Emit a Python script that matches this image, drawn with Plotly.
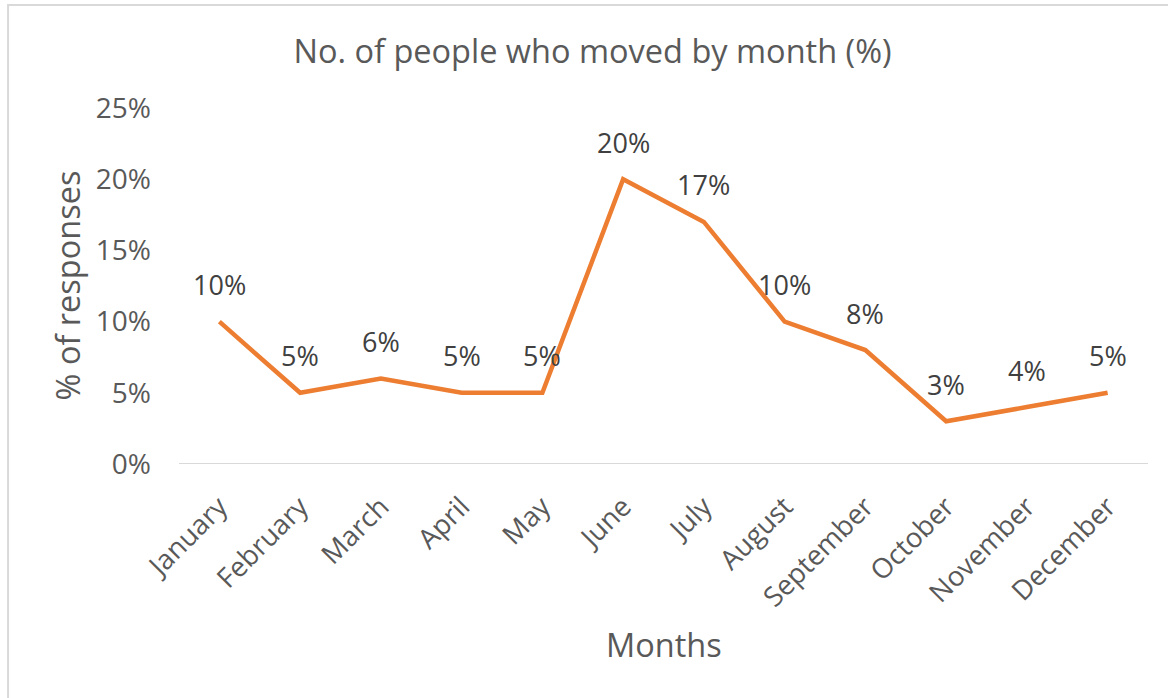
import plotly.graph_objects as go

months = ["January", "February", "March", "April", "May", "June", "July",
          "August", "September", "October", "November", "December"]
values = [10, 5, 6, 5, 5, 20, 17, 10, 8, 3, 4, 5]
y_ticks = [0, 5, 10, 15, 20, 25]
y_tick_labels = ["0%", "5%", "10%", "15%", "20%", "25%"]

FONT = "Open Sans"
GREY = "#595959"
fig = go.Figure()
fig.add_trace(go.Scatter(
    x=months, y=values, mode="lines",
    line=dict(color="#ED7D31", width=4.5),
    hoverinfo="skip", showlegend=False,
))

for m, v in zip(months, values):
    fig.add_annotation(x=m, y=v, text=f"{v}%", showarrow=False,
                       yshift=37, font=dict(family=FONT, size=27, color="#404040"))

# chart border (only top and left visible in the reference crop)
fig.add_shape(type="rect", xref="paper", yref="paper",
              x0=-0.1764, x1=1.03, y0=-0.7, y1=1.2893,
              line=dict(color="#D9D9D9", width=2), layer="below")

# axis titles
fig.add_annotation(text="Months", xref="paper", yref="paper", x=0.5005, y=-0.5084,
                   showarrow=False, xanchor="center", yanchor="middle",
                   font=dict(family=FONT, size=32.5, color=GREY))
fig.add_annotation(text="% of responses", xref="paper", yref="paper", x=-0.1151, y=0.503,
                   showarrow=False, xanchor="center", yanchor="middle", textangle=-90,
                   font=dict(family=FONT, size=32.5, color=GREY))

fig.update_layout(
    width=1168, height=698,
    margin=dict(l=178.6, r=19.6, t=108, b=234, autoexpand=False),
    paper_bgcolor="white", plot_bgcolor="white",
    title=dict(text="No. of people who moved by month (%)", x=0.5073, xanchor="center",
               y=0.9255, yanchor="middle",
               font=dict(family=FONT, size=32.5, color=GREY)),
    xaxis=dict(
        type="category", range=[-0.5, 11.5], tickangle=-45,
        showgrid=False, showline=False, zeroline=False, ticks="",
        tickfont=dict(family=FONT, size=27.5, color=GREY),
        ticklabelstandoff=20,
    ),
    yaxis=dict(
        range=[0, 25], tickvals=y_ticks, ticktext=y_tick_labels,
        showgrid=False, zeroline=False, showline=False, ticks="",
        tickfont=dict(family=FONT, size=28, color=GREY),
        ticklabelstandoff=27,
    ),
)
fig.add_shape(type="line", xref="paper", yref="y", x0=0, x1=1, y0=0, y1=0,
              line=dict(color="#D9D9D9", width=2), layer="below")

fig.write_html("out.html", config={"displayModeBar": False},
               post_script="document.body.style.margin='0';")
